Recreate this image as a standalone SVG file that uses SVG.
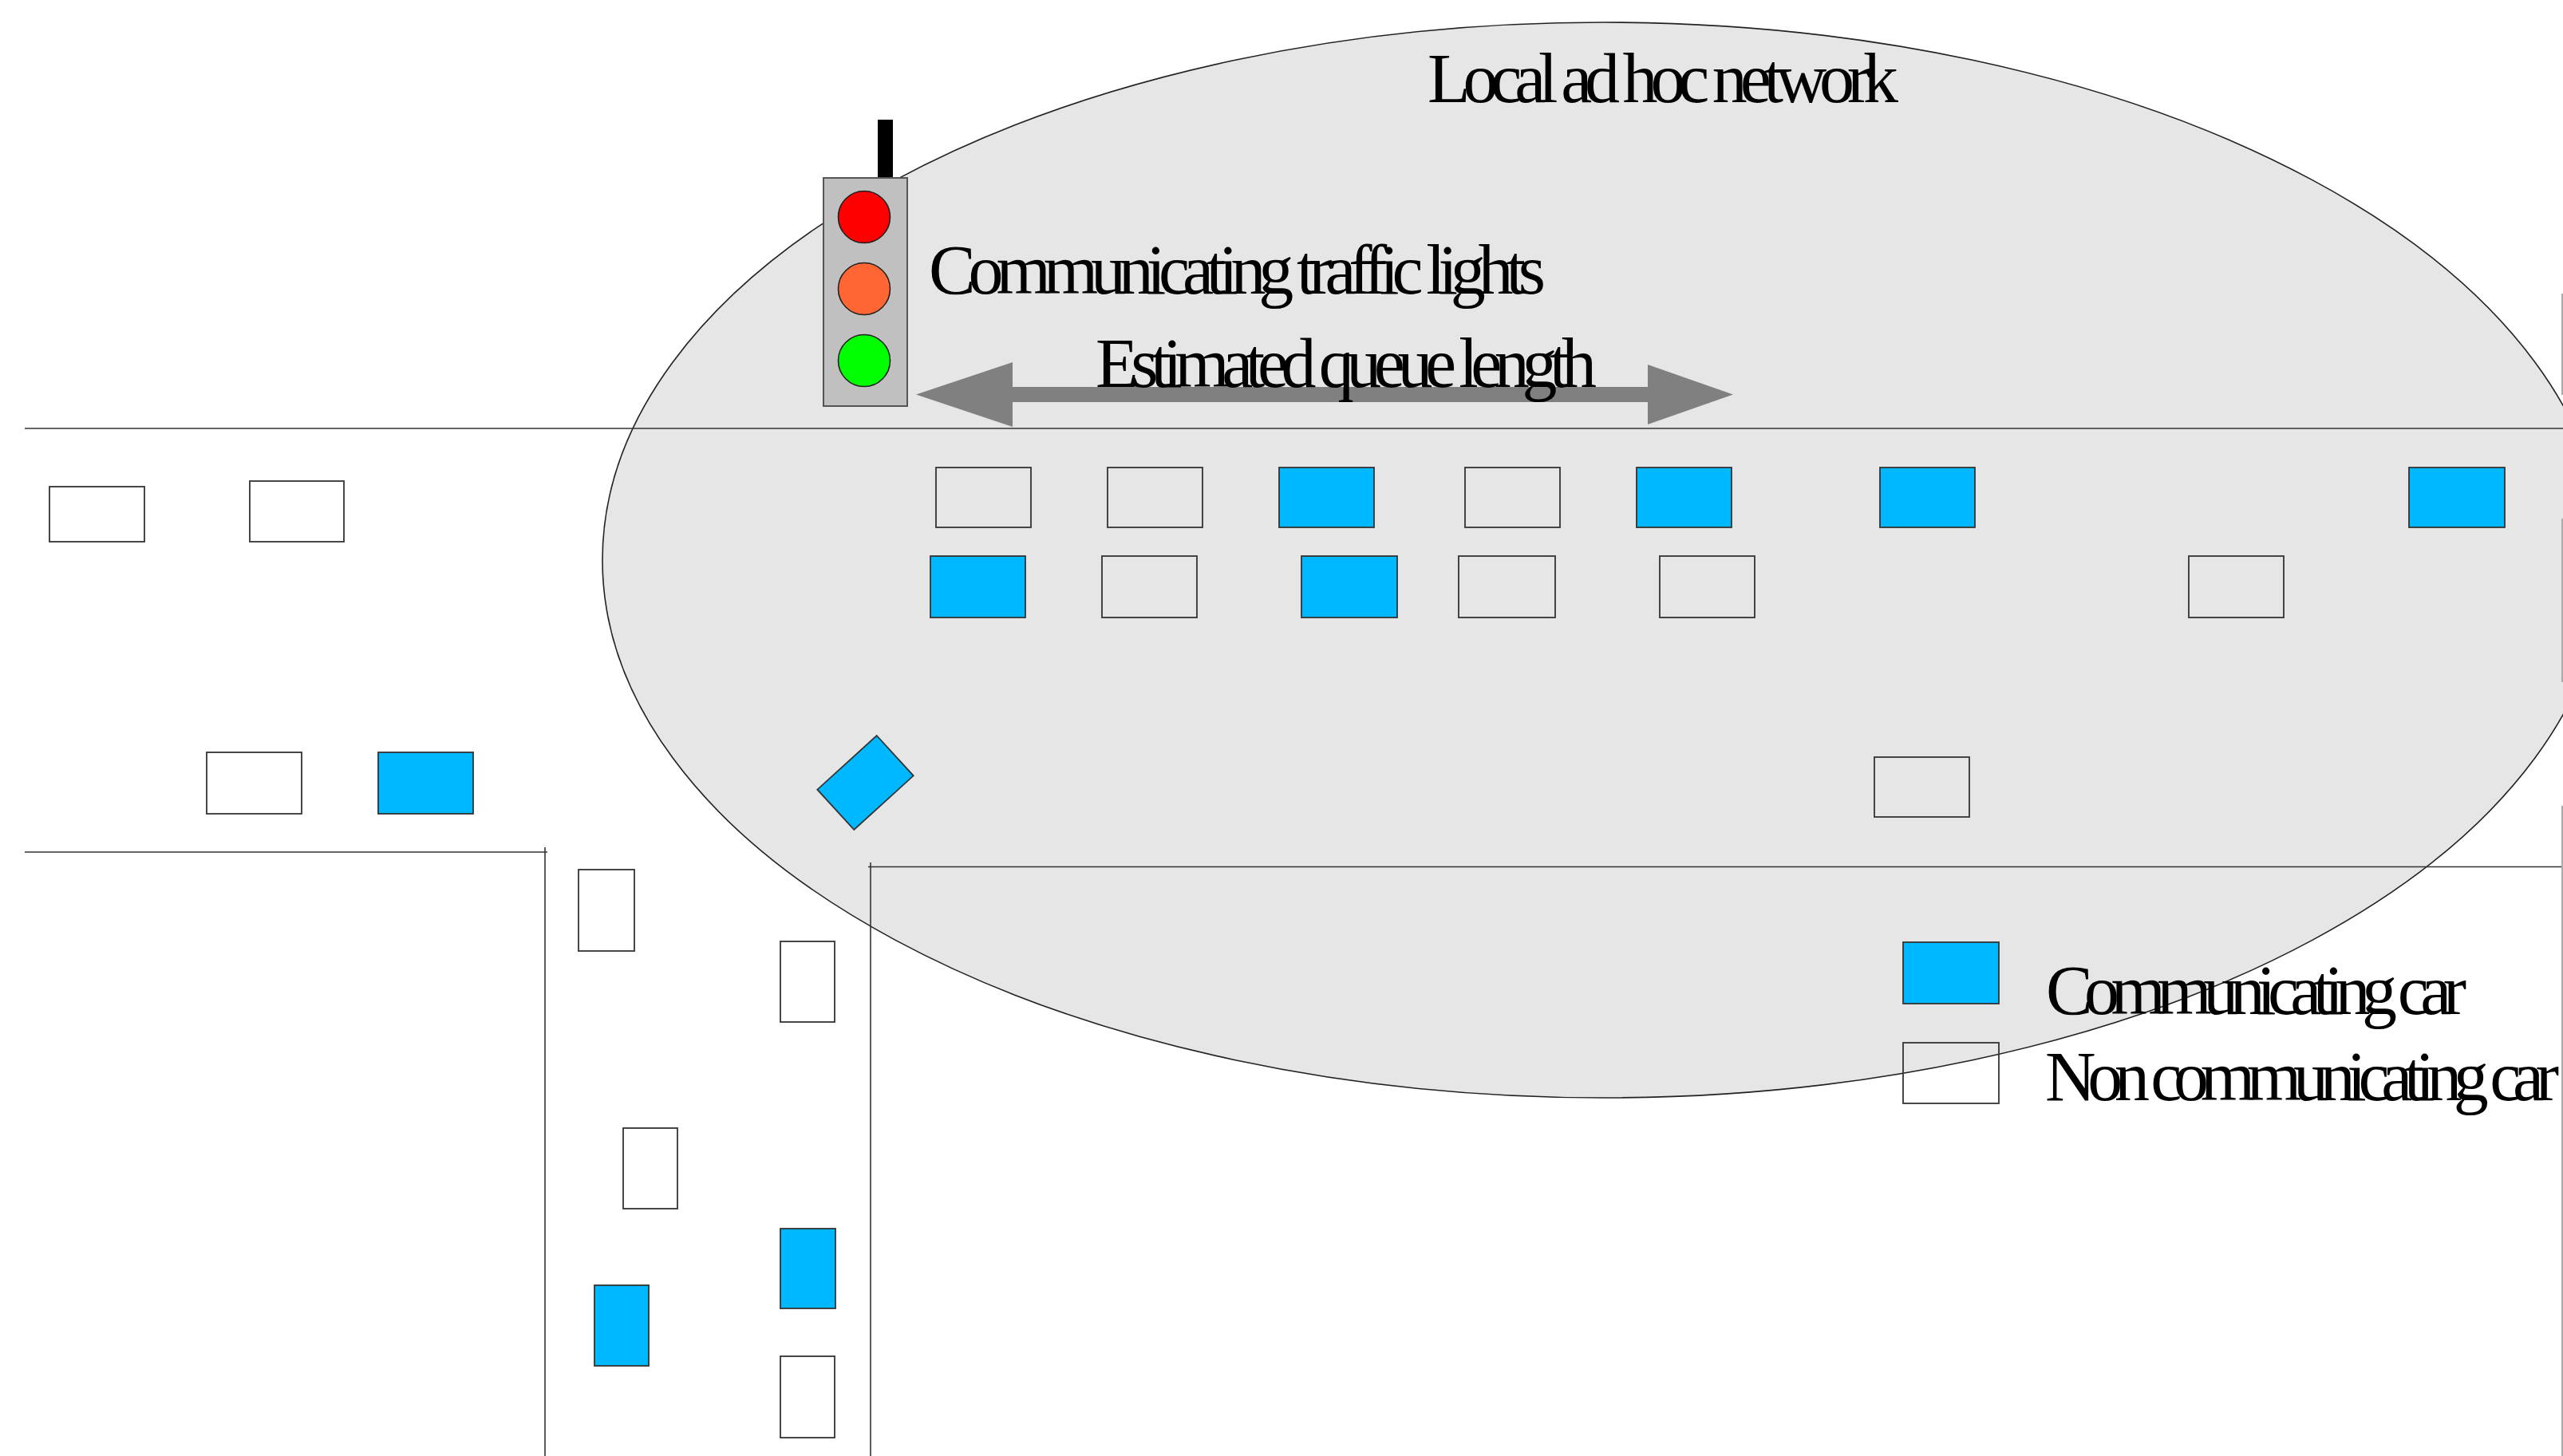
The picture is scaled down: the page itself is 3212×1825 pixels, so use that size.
<svg xmlns="http://www.w3.org/2000/svg" width="3212" height="1825" viewBox="0 0 3212 1825">
<style>
.road{stroke:#333;stroke-width:1.6;fill:none}
.edge{stroke:#aaa;stroke-width:2;fill:none}
.car{stroke:#333;stroke-width:1.8}
.comm{fill:#00b8ff}
.non{fill:none}
.lbl{font-family:"Liberation Serif","Times New Roman",serif;font-size:88px;fill:#000}
.lamp{stroke:#222;stroke-width:1.6}
</style>
<rect width="3212" height="1825" fill="#fff"/>
<g id="network">
<ellipse cx="2010" cy="702" rx="1255" ry="674" fill="#e6e6e6" stroke="#222" stroke-width="1.6"/>
</g>
<g id="roads">
<line class="road" x1="31" y1="537" x2="3212" y2="537"/>
<polyline class="road" points="31,1068 686,1068"/>
<line class="road" x1="683" y1="1062" x2="683" y2="1825"/>
<line class="road" x1="1088" y1="1086.5" x2="3212" y2="1086.5"/>
<line class="road" x1="1091" y1="1081" x2="1091" y2="1825"/>
<line class="edge" x1="3211" y1="368" x2="3211" y2="495"/>
<line class="edge" x1="3211" y1="650" x2="3211" y2="855"/>
<line class="edge" x1="3211" y1="1010" x2="3211" y2="1825"/>
</g>
<g id="traffic-light">
<rect x="1100" y="150" width="19" height="83" fill="#000"/>
<rect x="1032" y="223" width="105" height="286" fill="#c0c0c0" stroke="#555" stroke-width="2"/>
<circle class="lamp" cx="1083" cy="272" r="32.5" fill="#ff0000"/>
<circle class="lamp" cx="1083" cy="362" r="32.5" fill="#ff6633"/>
<circle class="lamp" cx="1083" cy="452" r="32.5" fill="#00ff00"/>
</g>
<g id="queue-arrow">
<polygon points="1148,494.5 1269,454 1269,485 2065,485 2065,457 2172,494.5 2065,532 2065,504 1269,504 1269,535" fill="#808080"/>
</g>
<g id="cars">
<rect class="car non" x="62" y="610" width="119" height="69"/>
<rect class="car non" x="313" y="603" width="118" height="76"/>
<rect class="car non" x="1173" y="586" width="119" height="75"/>
<rect class="car non" x="1388" y="586" width="119" height="75"/>
<rect class="car comm" x="1603" y="586" width="119" height="75"/>
<rect class="car non" x="1836" y="586" width="119" height="75"/>
<rect class="car comm" x="2051" y="586" width="119" height="75"/>
<rect class="car comm" x="2356" y="586" width="119" height="75"/>
<rect class="car comm" x="3019" y="586" width="120" height="75"/>
<rect class="car comm" x="1166" y="697" width="119" height="77"/>
<rect class="car non" x="1381" y="697" width="119" height="77"/>
<rect class="car comm" x="1631" y="697" width="120" height="77"/>
<rect class="car non" x="1828" y="697" width="121" height="77"/>
<rect class="car non" x="2080" y="697" width="119" height="77"/>
<rect class="car non" x="2743" y="697" width="119" height="77"/>
<rect class="car non" x="259" y="943" width="119" height="77"/>
<rect class="car comm" x="474" y="943" width="119" height="77"/>
<polygon class="car comm" points="1098.7,922 1144.7,972.3 1070.3,1040 1024.3,989.7"/>
<rect class="car non" x="2349" y="949" width="119" height="75"/>
<rect class="car non" x="725" y="1090" width="70" height="102"/>
<rect class="car non" x="978" y="1180" width="68" height="101"/>
<rect class="car non" x="781" y="1414" width="68" height="101"/>
<rect class="car comm" x="978" y="1540" width="69" height="100"/>
<rect class="car comm" x="745" y="1611" width="68" height="101"/>
<rect class="car non" x="978" y="1700" width="68" height="102"/>
</g>
<g id="labels">
<text class="lbl" x="1789" y="128" textLength="590" lengthAdjust="spacing">Local ad hoc network</text>
<text class="lbl" x="1164" y="368" textLength="773" lengthAdjust="spacing">Communicating traffic lights</text>
<text class="lbl" x="1373" y="485" textLength="628" lengthAdjust="spacing">Estimated queue length</text>
</g>
<g id="legend">
<rect class="car comm" x="2385" y="1181" width="120" height="77"/>
<rect class="car" x="2385" y="1307" width="120" height="76" fill="none"/>
<text class="lbl" x="2564" y="1271" textLength="527" lengthAdjust="spacing">Communicating car</text>
<text class="lbl" x="2563" y="1379" textLength="644" lengthAdjust="spacing">Non communicating car</text>
</g>
</svg>
